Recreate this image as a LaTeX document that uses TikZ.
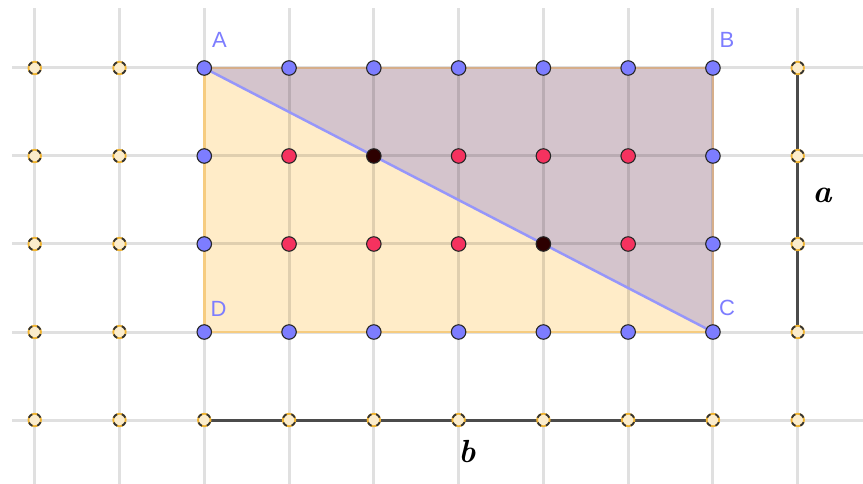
\documentclass[tikz,border=0pt]{standalone}
\usepackage{fontspec}
\newfontfamily\labfont{Liberation Sans}
\definecolor{rectfill}{RGB}{255,236,200}
\definecolor{trifill}{RGB}{212,196,204}
\definecolor{rectedge}{RGB}{246,204,128}
\definecolor{triedge}{RGB}{214,174,138}
\definecolor{diag}{RGB}{150,150,250}
\definecolor{ptblue}{RGB}{125,125,255}
\definecolor{ptred}{RGB}{245,50,95}
\definecolor{ptdark}{RGB}{45,0,0}
\definecolor{ptorange}{RGB}{240,180,50}
\definecolor{seg}{RGB}{75,75,75}
\definecolor{labcol}{RGB}{125,125,255}
\tikzset{
  gridline/.style={black, opacity=0.12, line width=3pt},
  ptbase/.style={circle, inner sep=0pt, minimum size=14.5pt, draw=black!85, line width=1.1pt},
  bpt/.style={ptbase, fill=ptblue},
  rpt/.style={ptbase, fill=ptred},
  kpt/.style={ptbase, fill=ptdark},
  dpt/.style={circle, inner sep=0pt, minimum size=12.5pt, fill=ptorange!25, draw=ptorange, line width=1.8pt,
     postaction={draw=black!80, dash pattern=on 4.9pt off 4.92pt, dash phase=7.36pt, line width=1.8pt}},
  ptlab/.style={text=labcol, font=\labfont\fontsize{22}{25}\selectfont, inner sep=0pt},
  seglab/.style={font=\fontsize{32}{38}\selectfont\bfseries\itshape, inner sep=0pt},
  segline/.style={seg, line width=3pt},
}
\begin{document}
\begin{tikzpicture}[x=1pt,y=-1pt]
\useasboundingbox (0,0) rectangle (863,484);
\fill[white] (0,0) rectangle (863,484);
\foreach \i in {0,...,9}{
  \foreach \j in {0,...,4}{
    \coordinate (g\i-\j) at ({34.7+84.78*\i},{68+88*\j});
  }
}
% fills
\fill[rectfill] (g2-0) -- (g8-0) -- (g8-3) -- (g2-3) -- cycle;
\fill[trifill] (g2-0) -- (g8-0) -- (g8-3) -- cycle;
% grid
\foreach \i in {0,...,9}{
  \draw[gridline] ({34.7+84.78*\i},8) -- ({34.7+84.78*\i},484);
}
\foreach \j in {0,...,4}{
  \draw[gridline] (12,{68+88*\j}) -- (863,{68+88*\j});
}
% edges
\draw[rectedge, line width=2.5pt] (g8-3) -- (g2-3) -- (g2-0);
\draw[triedge, line width=2.8pt] (g2-0) -- (g8-0) -- (g8-3);
\draw[diag, line width=2.5pt] (g2-0) -- (g8-3);
% segments a and b
\draw[segline] (g9-0) -- (g9-3);
\draw[segline] (g2-4) -- (g8-4);
% dashed points
\foreach \i in {0,1,9}{
  \foreach \j in {0,...,4}{
    \node[dpt] (d\i-\j) at (g\i-\j) {};
  }
}
\foreach \i in {2,...,8}{
  \node[dpt] (d\i-4) at (g\i-4) {};
}
% blue points
\foreach \i in {3,...,7}{
  \node[bpt] (t\i) at (g\i-0) {};
  \node[bpt] (u\i) at (g\i-3) {};
}
\node[bpt] (A) at (g2-0) {};
\node[bpt] (B) at (g8-0) {};
\node[bpt] (C) at (g8-3) {};
\node[bpt] (D) at (g2-3) {};
\node[bpt] (l1) at (g2-1) {};
\node[bpt] (l2) at (g2-2) {};
\node[bpt] (r1) at (g8-1) {};
\node[bpt] (r2) at (g8-2) {};
% red points
\foreach \i/\j in {3/1,5/1,6/1,7/1,3/2,4/2,5/2,7/2}{
  \node[rpt] (p\i-\j) at (g\i-\j) {};
}
% dark points
\node[kpt] (k1) at (g4-1) {};
\node[kpt] (k2) at (g6-2) {};
% labels
\node[ptlab] (lA) at (219.5,40) {A};
\node[ptlab] (lB) at (727,40) {B};
\node[ptlab] (lC) at (727,308) {C};
\node[ptlab] (lD) at (218.5,308.5) {D};
\node[seglab] (la) at (822,195) {a};
\node[seglab] (lb) at (467,452) {b};
\end{tikzpicture}
\end{document}
